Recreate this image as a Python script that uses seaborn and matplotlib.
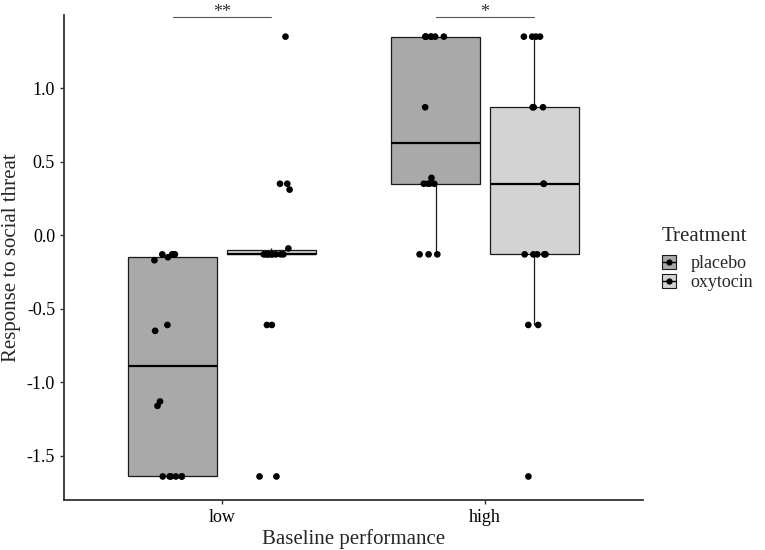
import numpy as np
import pandas as pd
import seaborn as sns
import matplotlib.pyplot as plt
from matplotlib.patches import Patch
from matplotlib.lines import Line2D

# Data (response to social threat per participant)
low_placebo = [-1.64, -1.64, -1.64, -1.64, -1.64, -1.64, -1.16, -1.13,
               -0.65, -0.61, -0.17, -0.15, -0.13, -0.13, -0.13, -0.13]
low_oxytocin = [-1.64, -1.64, -0.61, -0.61, -0.13, -0.13, -0.13, -0.13, -0.13,
                -0.13, -0.13, -0.13, -0.13, -0.09, 0.31, 0.35, 0.35, 1.35]
high_placebo = [-0.13, -0.13, -0.13, 0.35, 0.35, 0.35, 0.35, 0.39,
                0.87, 1.35, 1.35, 1.35, 1.35, 1.35, 1.35, 1.35]
high_oxytocin = [-1.64, -0.61, -0.61, -0.13, -0.13, -0.13, -0.13, -0.13,
                 0.35, 0.35, 0.87, 0.87, 0.87, 1.35, 1.35, 1.35, 1.35]

performance_levels = ["low", "high"]
treatment_levels = ["placebo", "oxytocin"]
box_colors = {"placebo": "#A9A9A9", "oxytocin": "#D3D3D3"}

# significance labels over each performance group
sig_labels = ["**", "*"]

groups = [("low", "placebo", low_placebo), ("low", "oxytocin", low_oxytocin),
          ("high", "placebo", high_placebo), ("high", "oxytocin", high_oxytocin)]
df = pd.concat([
    pd.DataFrame({"performance": p, "treatment": t, "response": v})
    for p, t, v in groups
], ignore_index=True)

sns.set_style("ticks")
plt.rcParams["font.family"] = ["Liberation Serif", "DejaVu Serif"]
plt.rcParams["axes.unicode_minus"] = False

np.random.seed(3)

fig = plt.figure(figsize=(7.65, 5.5), dpi=100)
ax = fig.add_axes([0.0837, 0.0909, 0.7568, 0.8818])

sns.boxplot(
    data=df, x="performance", y="response", hue="treatment",
    order=performance_levels, hue_order=treatment_levels,
    palette=box_colors, saturation=1, width=0.75, gap=0.1,
    showfliers=False, showcaps=False, whis=1.5,
    linecolor="#1a1a1a", linewidth=0.9,
    medianprops={"linewidth": 1.6, "color": "black"},
    legend=False, ax=ax,
)
sns.stripplot(
    data=df, x="performance", y="response", hue="treatment",
    order=performance_levels, hue_order=treatment_levels,
    palette={"placebo": "black", "oxytocin": "black"},
    dodge=True, jitter=0.12, size=4.8, linewidth=0,
    legend=False, ax=ax,
)

ax.set_xlim(-0.6, 1.6)
ax.set_ylim(-1.80, 1.497)
ax.set_yticks([-1.5, -1.0, -0.5, 0.0, 0.5, 1.0])
ax.set_yticklabels([f"{v:.1f}" for v in [-1.5, -1.0, -0.5, 0.0, 0.5, 1.0]])
ax.set_xlabel("Baseline performance", fontsize=15, labelpad=2)
ax.set_ylabel("Response to social threat", fontsize=15, labelpad=4)
ax.tick_params(axis="both", labelsize=13, length=3, width=1, color="#333333",
               labelcolor="black")
sns.despine(ax=ax)
for side in ["left", "bottom"]:
    ax.spines[side].set_linewidth(1.3)
    ax.spines[side].set_color("#333333")

# significance brackets
for i, lab in enumerate(sig_labels):
    ax.plot([i - 0.1875, i + 0.1875], [1.483, 1.483], color="#555555",
            linewidth=0.8, clip_on=False)
    ax.text(i, 1.485, lab, ha="center", va="baseline", fontsize=13,
            color="#333333", clip_on=False)

handles = [
    (Patch(facecolor=box_colors[t], edgecolor="#1a1a1a", linewidth=0.8),
     Line2D([], [], color="black", linewidth=1, marker="o", markersize=3.5))
    for t in treatment_levels
]
leg = ax.legend(handles, treatment_levels, title="Treatment",
                loc="center left", bbox_to_anchor=(1.02, 0.497),
                frameon=False, fontsize=13, title_fontsize=15,
                handlelength=0.8, handleheight=0.8, handletextpad=0.8,
                labelspacing=0.1, borderaxespad=0)
leg._legend_box.align = "left"
leg._legend_box.sep = 7

fig.savefig("out.png", dpi=100)
